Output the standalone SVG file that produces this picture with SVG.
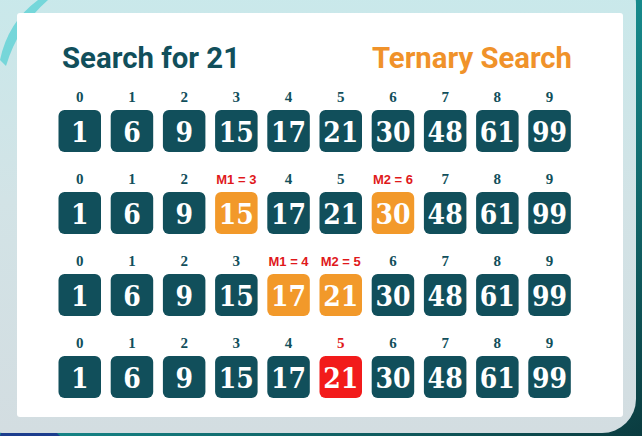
<svg xmlns="http://www.w3.org/2000/svg" width="642" height="436" viewBox="0 0 642 436">
<style>
.box{fill:#114f5b}
.hl{fill:#f2992a}
.found{fill:#f21b1b}
.num{font-family:"DejaVu Serif Condensed","DejaVu Serif","Liberation Serif",serif;font-stretch:condensed;font-weight:bold;font-size:28px;fill:#ffffff;text-anchor:middle}
.idx{font-family:"Liberation Serif",serif;font-weight:bold;font-size:15px;fill:#114f5b;text-anchor:middle}
.mid{font-family:"Liberation Sans",Arial,sans-serif;font-weight:bold;font-size:13px;fill:#e0191b;text-anchor:middle}
.title{font-family:Roboto,"Liberation Sans",sans-serif;font-weight:bold;font-size:29px}
</style>
<defs>
<linearGradient id="frameG" x1="0" y1="0" x2="0" y2="1">
<stop offset="0" stop-color="#c8e9eb"/>
<stop offset="0.5" stop-color="#d2e3e6"/>
<stop offset="1" stop-color="#d3dde1"/>
</linearGradient>
<linearGradient id="bgG" x1="0" y1="0" x2="1" y2="1">
<stop offset="0" stop-color="#2fc4c8"/>
<stop offset="0.5" stop-color="#168a8c"/>
<stop offset="1" stop-color="#0b3c40"/>
</linearGradient>
</defs>
<g id="background">
<rect x="0" y="0" width="642" height="436" fill="url(#bgG)"/>
<path d="M0 330 Q20 380 0 436 L60 436 Q20 400 0 330 Z" fill="#1c3d8e"/>
<rect x="-30" y="-30" width="666" height="463" rx="34" fill="url(#frameG)"/>
<path d="M0 60 Q8 22 38 0 L48 0 Q18 26 6 66 Z" fill="#2fc9cc" opacity="0.55"/>
<rect x="17" y="13" width="606" height="404" rx="3" fill="#ffffff"/>
</g>
<g id="titles">
<text class="title" x="62" y="68" fill="#114f5b" textLength="178" lengthAdjust="spacingAndGlyphs">Search for 21</text>
<text class="title" x="372" y="68" fill="#f0922a" textLength="200" lengthAdjust="spacingAndGlyphs">Ternary Search</text>
</g>
<g id="row1">
<g id="r1c0"><text class="idx" x="79.75" y="102">0</text><rect class="box" x="58.5" y="110" width="42.5" height="42" rx="6"/><text class="num" x="79.75" y="142">1</text></g>
<g id="r1c1"><text class="idx" x="131.95" y="102">1</text><rect class="box" x="110.7" y="110" width="42.5" height="42" rx="6"/><text class="num" x="131.95" y="142">6</text></g>
<g id="r1c2"><text class="idx" x="184.15" y="102">2</text><rect class="box" x="162.9" y="110" width="42.5" height="42" rx="6"/><text class="num" x="184.15" y="142">9</text></g>
<g id="r1c3"><text class="idx" x="236.35" y="102">3</text><rect class="box" x="215.1" y="110" width="42.5" height="42" rx="6"/><text class="num" x="236.35" y="142">15</text></g>
<g id="r1c4"><text class="idx" x="288.55" y="102">4</text><rect class="box" x="267.3" y="110" width="42.5" height="42" rx="6"/><text class="num" x="288.55" y="142">17</text></g>
<g id="r1c5"><text class="idx" x="340.75" y="102">5</text><rect class="box" x="319.5" y="110" width="42.5" height="42" rx="6"/><text class="num" x="340.75" y="142">21</text></g>
<g id="r1c6"><text class="idx" x="392.95" y="102">6</text><rect class="box" x="371.7" y="110" width="42.5" height="42" rx="6"/><text class="num" x="392.95" y="142">30</text></g>
<g id="r1c7"><text class="idx" x="445.15" y="102">7</text><rect class="box" x="423.9" y="110" width="42.5" height="42" rx="6"/><text class="num" x="445.15" y="142">48</text></g>
<g id="r1c8"><text class="idx" x="497.35" y="102">8</text><rect class="box" x="476.1" y="110" width="42.5" height="42" rx="6"/><text class="num" x="497.35" y="142">61</text></g>
<g id="r1c9"><text class="idx" x="549.55" y="102">9</text><rect class="box" x="528.3" y="110" width="42.5" height="42" rx="6"/><text class="num" x="549.55" y="142">99</text></g>
</g>
<g id="row2">
<g id="r2c0"><text class="idx" x="79.75" y="184">0</text><rect class="box" x="58.5" y="192" width="42.5" height="42" rx="6"/><text class="num" x="79.75" y="224">1</text></g>
<g id="r2c1"><text class="idx" x="131.95" y="184">1</text><rect class="box" x="110.7" y="192" width="42.5" height="42" rx="6"/><text class="num" x="131.95" y="224">6</text></g>
<g id="r2c2"><text class="idx" x="184.15" y="184">2</text><rect class="box" x="162.9" y="192" width="42.5" height="42" rx="6"/><text class="num" x="184.15" y="224">9</text></g>
<g id="r2c3"><text class="mid" x="236.35" y="184">M1 = 3</text><rect class="hl" x="215.1" y="192" width="42.5" height="42" rx="6"/><text class="num" x="236.35" y="224">15</text></g>
<g id="r2c4"><text class="idx" x="288.55" y="184">4</text><rect class="box" x="267.3" y="192" width="42.5" height="42" rx="6"/><text class="num" x="288.55" y="224">17</text></g>
<g id="r2c5"><text class="idx" x="340.75" y="184">5</text><rect class="box" x="319.5" y="192" width="42.5" height="42" rx="6"/><text class="num" x="340.75" y="224">21</text></g>
<g id="r2c6"><text class="mid" x="392.95" y="184">M2 = 6</text><rect class="hl" x="371.7" y="192" width="42.5" height="42" rx="6"/><text class="num" x="392.95" y="224">30</text></g>
<g id="r2c7"><text class="idx" x="445.15" y="184">7</text><rect class="box" x="423.9" y="192" width="42.5" height="42" rx="6"/><text class="num" x="445.15" y="224">48</text></g>
<g id="r2c8"><text class="idx" x="497.35" y="184">8</text><rect class="box" x="476.1" y="192" width="42.5" height="42" rx="6"/><text class="num" x="497.35" y="224">61</text></g>
<g id="r2c9"><text class="idx" x="549.55" y="184">9</text><rect class="box" x="528.3" y="192" width="42.5" height="42" rx="6"/><text class="num" x="549.55" y="224">99</text></g>
</g>
<g id="row3">
<g id="r3c0"><text class="idx" x="79.75" y="266">0</text><rect class="box" x="58.5" y="274" width="42.5" height="42" rx="6"/><text class="num" x="79.75" y="306">1</text></g>
<g id="r3c1"><text class="idx" x="131.95" y="266">1</text><rect class="box" x="110.7" y="274" width="42.5" height="42" rx="6"/><text class="num" x="131.95" y="306">6</text></g>
<g id="r3c2"><text class="idx" x="184.15" y="266">2</text><rect class="box" x="162.9" y="274" width="42.5" height="42" rx="6"/><text class="num" x="184.15" y="306">9</text></g>
<g id="r3c3"><text class="idx" x="236.35" y="266">3</text><rect class="box" x="215.1" y="274" width="42.5" height="42" rx="6"/><text class="num" x="236.35" y="306">15</text></g>
<g id="r3c4"><text class="mid" x="288.55" y="266">M1 = 4</text><rect class="hl" x="267.3" y="274" width="42.5" height="42" rx="6"/><text class="num" x="288.55" y="306">17</text></g>
<g id="r3c5"><text class="mid" x="340.75" y="266">M2 = 5</text><rect class="hl" x="319.5" y="274" width="42.5" height="42" rx="6"/><text class="num" x="340.75" y="306">21</text></g>
<g id="r3c6"><text class="idx" x="392.95" y="266">6</text><rect class="box" x="371.7" y="274" width="42.5" height="42" rx="6"/><text class="num" x="392.95" y="306">30</text></g>
<g id="r3c7"><text class="idx" x="445.15" y="266">7</text><rect class="box" x="423.9" y="274" width="42.5" height="42" rx="6"/><text class="num" x="445.15" y="306">48</text></g>
<g id="r3c8"><text class="idx" x="497.35" y="266">8</text><rect class="box" x="476.1" y="274" width="42.5" height="42" rx="6"/><text class="num" x="497.35" y="306">61</text></g>
<g id="r3c9"><text class="idx" x="549.55" y="266">9</text><rect class="box" x="528.3" y="274" width="42.5" height="42" rx="6"/><text class="num" x="549.55" y="306">99</text></g>
</g>
<g id="row4">
<g id="r4c0"><text class="idx" x="79.75" y="348">0</text><rect class="box" x="58.5" y="356" width="42.5" height="42" rx="6"/><text class="num" x="79.75" y="388">1</text></g>
<g id="r4c1"><text class="idx" x="131.95" y="348">1</text><rect class="box" x="110.7" y="356" width="42.5" height="42" rx="6"/><text class="num" x="131.95" y="388">6</text></g>
<g id="r4c2"><text class="idx" x="184.15" y="348">2</text><rect class="box" x="162.9" y="356" width="42.5" height="42" rx="6"/><text class="num" x="184.15" y="388">9</text></g>
<g id="r4c3"><text class="idx" x="236.35" y="348">3</text><rect class="box" x="215.1" y="356" width="42.5" height="42" rx="6"/><text class="num" x="236.35" y="388">15</text></g>
<g id="r4c4"><text class="idx" x="288.55" y="348">4</text><rect class="box" x="267.3" y="356" width="42.5" height="42" rx="6"/><text class="num" x="288.55" y="388">17</text></g>
<g id="r4c5"><text class="idx" x="340.75" y="348" style="fill:#e0191b">5</text><rect class="found" x="319.5" y="356" width="42.5" height="42" rx="6"/><text class="num" x="340.75" y="388">21</text></g>
<g id="r4c6"><text class="idx" x="392.95" y="348">6</text><rect class="box" x="371.7" y="356" width="42.5" height="42" rx="6"/><text class="num" x="392.95" y="388">30</text></g>
<g id="r4c7"><text class="idx" x="445.15" y="348">7</text><rect class="box" x="423.9" y="356" width="42.5" height="42" rx="6"/><text class="num" x="445.15" y="388">48</text></g>
<g id="r4c8"><text class="idx" x="497.35" y="348">8</text><rect class="box" x="476.1" y="356" width="42.5" height="42" rx="6"/><text class="num" x="497.35" y="388">61</text></g>
<g id="r4c9"><text class="idx" x="549.55" y="348">9</text><rect class="box" x="528.3" y="356" width="42.5" height="42" rx="6"/><text class="num" x="549.55" y="388">99</text></g>
</g>
<g id="connectors"></g>
</svg>
